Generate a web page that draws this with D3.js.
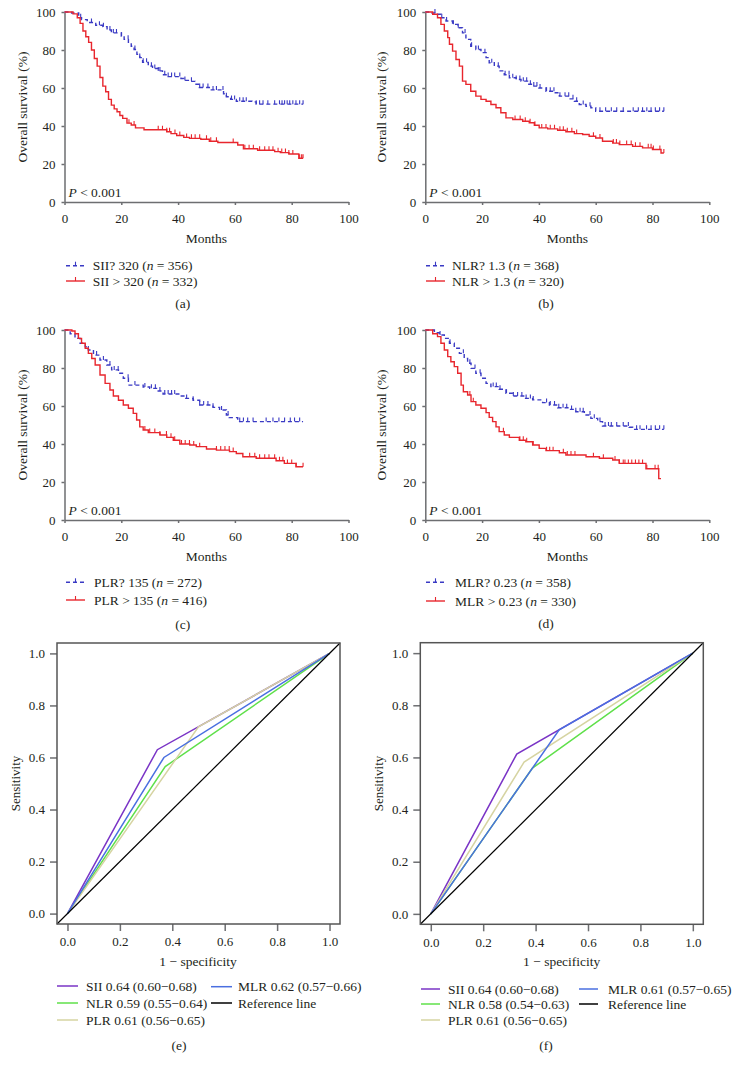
<!DOCTYPE html>
<html><head><meta charset="utf-8">
<script src="https://cdn.jsdelivr.net/npm/d3@7"></script>
<style>
body{margin:0;background:#fff}
svg{display:block}
text{font-family:"Liberation Serif","Times New Roman",serif;fill:#231f20}
</style>
</head><body>
<svg id="c" width="732" height="1072"></svg>
<script>
// ---------- Kaplan–Meier data (time in months, survival %) ----------
const kmTicks = [0, 20, 40, 60, 80, 100];

const aLowT = [0,2.5,5,6,8,11,13.5,15,16.5,20,21,22.5,23.5,24.5,25.5,26.5,27.5,29.5,31,33,34.5,36.5,41,42,44.5,46,47.5,51,56,57,58.5,60.5,66,67.5];
const aLowS = [100,99.5,97,96,94.5,93,92.3,90.5,89,87.3,85.6,84,82,80.3,77.7,76,73.5,71.5,70.3,69,67,66,65,64,63.5,62,60.3,59,57,55.4,54,53,52.7,51.5];
const aLowC = [5.7,9.5,12.3,13.7,16,17.2,18.3,20.1,22.4,24.8,26.5,27.7,28.9,30.6,31.8,33,33.6,35.3,36.5,37.7,38.8,40.6,42.4,44.7,47.6,48.8,50.5,52.3,53.5,55.8,57,58.8,59.9,61.7,62.9,64,67.5,68.7,69.9,71.6,74,75.7,76.6,77.5,78.4,79.3,80.4,81.5,82.8,84];
const aHighT = [0,3,4.5,5.5,6.5,7.5,8.5,9.5,10.5,11.5,12.5,13.5,14.5,15.5,16.5,17.5,18.5,19.5,20.5,22,23.5,25,28,36,37.5,39.5,42,44,48,51,54,61,63,68,74,76,79,82.5];
const aHighS = [100,99,97,94,90,87,84,80,75.5,71.5,65.5,61,58,54,51,49,47.5,45.5,44,41.5,40.5,39,38,37,36,35,34,33.5,33,32,31.3,30,28,27.2,26.5,26,25.3,23];
const aHighC = [22.7,24.5,33,34.5,36,37,38.9,40.6,43,44.7,46,47.6,50,51.5,53.5,59.4,63.5,65,66.5,68.7,70.5,72,73.4,75.2,76.5,77.8,79,80.4,82.8,83.5,84];

const bLowT = [0,2,3.8,5.5,7.3,9.6,11.4,13.1,14.3,16,17.8,19.6,21.4,22.5,24.3,26,27.8,29.6,32,33.7,36,37.8,40,42.5,45.4,47.2,50.7,52.5,54.2,56.6,58.3,60];
const bLowS = [100,99.5,98.8,97,95.3,93.5,91.7,89,85.6,82,80.3,78.6,76,73.3,71.5,69,67,65.4,64.5,63.6,62,61,60,58.3,57.5,55.7,54.3,53,51.3,50.4,49.6,47.8];
const bLowC = [3.4,5.8,7.5,9.9,11.6,14,16.3,18.7,21,23.4,25.7,28.1,29.5,30.8,32,33.3,34.5,35.7,37,38.2,39.3,40.4,42.7,44,45.3,47.4,49.2,50.5,52,53.3,55.6,58,61.5,63.5,65.5,67.4,69.7,73.2,75,76.5,78,79.5,81,82.5,84];
const bHighT = [0,2.6,4.3,5.5,6.7,7.9,8.5,9.6,10.8,12,13.1,14.3,16,17.8,19.6,21.4,23.1,24.9,26.6,28.4,30.8,34.3,36.6,38.4,40.1,43.1,46.6,49.5,52.5,55.4,57.7,60,62.4,66,68.3,73,76.5,80,83];
const bHighS = [100,98.8,97,93.5,90,86.5,83,79.4,75,71.5,63.6,61.9,58.3,55.7,54,53,51.3,49.6,47,44.3,43.4,42.5,41.7,40.4,39,38.5,37.8,37,36,35.5,34.6,33.7,32,31,30.2,29.3,28.5,27.6,25.8];
const bHighC = [31.6,33.4,35.2,36.9,38.6,41,42.5,44,45.5,47.4,48.6,50,51.6,53.3,59.2,61.5,66.2,67.3,68.5,70.9,72.5,74,75.6,78.5,79.5,80.3,82.6,84];

const cLowT = [0,2,3.7,5.5,7.3,8.4,10.2,12.5,14.9,16.6,19,20.7,22.5,27.7,30,32.4,34.7,40.6,42.3,45.3,47.6,52.3,54.6,57,58,61];
const cLowS = [100,98,95.6,93,91.2,89.5,86.8,84.2,81.6,79,77.2,74.6,71,70,69.3,67.9,66.3,65.3,64,63,60.5,59.3,57.9,55.3,53.9,51.8];
const cLowC = [4.9,8.4,11.3,13.7,16,17.5,18.9,22.4,24.8,28.3,30.6,32,33.6,35.3,36.5,37.7,38.8,43,45.3,47.6,49,50.5,52.3,55.3,57.6,61.7,63,64.5,66.4,71,73.4,75.5,77.5,79.5,81,82.8];
const cHighT = [0,2.6,3.7,4.9,6,7.3,8.4,9.6,10.8,12.5,14.3,16,17.2,19,20.7,22.5,24.2,25.4,26.5,27.7,29.5,33.6,36,38.3,40.6,44.1,46.4,50,53.5,58.1,60.5,62.8,67.5,74.5,77.4,81.5];
const cHighS = [100,99.5,98,95.6,93,90.4,87.7,85,81.6,76.3,71.9,68.4,65.3,63,60.5,58.8,56.1,52.6,49,47.4,46,44.7,43.5,42,40,39.5,38.6,37.4,36.8,36,35,33.3,32.5,31.2,29.8,28];
const cHighC = [28.3,30,31.8,33.6,35.9,37.5,38.8,41.2,42.5,44,45.5,47.6,53.5,55,56.5,58,59.4,65.2,67,68.7,70.5,72,74,75.7,76.9,78.5,80,81.6,84];

const dLowT = [0,3.2,4.9,6.7,8.5,10.2,12,13.7,14.9,16.1,17.8,19.6,21.4,23.1,26,28.4,30.8,34.9,37.8,41.3,43.7,46.6,50.7,53,56,58.3,60.7,62.4,71.8,73];
const dLowS = [100,98.6,97.4,95.6,93,90.4,87.7,85,82.5,79.8,77.2,74.6,71.9,70.2,68.8,66.7,65.3,64,63.2,61.8,60.5,59.1,58.2,57,55.3,53.5,51.8,49.5,48.8,47.7];
const dLowC = [5.2,8.7,13.4,15.7,17.5,19.3,23.9,25,26.3,28.6,31,32.5,34,35.5,37,38,42.7,44,45.5,47,48.5,49.8,51.5,53,54.5,55.6,58,59.5,61.5,63.3,64.5,65.5,67.4,69.7,71.5,74.4,75.6,77.9,79.5,81,82.5,84];
const dHighT = [0,2.6,4.3,5.5,6.7,7.9,9,10.2,11.4,12.6,13.4,14.9,16.1,17.8,19.6,21.4,22.5,23.7,24.9,26,27.8,29.6,33.1,35.4,37.8,40.1,42.5,47.2,49.5,56.6,61.3,66,68.3,77.7,82.2];
const dHighS = [100,98,96.5,93,89.5,86,83.3,80.7,77.2,71,67.5,65.8,62.3,60.5,58.8,56.5,54,51.8,49,46.5,44.7,43.5,42,41.2,39.5,37.7,36.5,35.4,34.2,33.3,32.5,31.6,29.8,27,21.8];
const dHighC = [15.7,16.9,27.5,33.3,34.5,35.7,38,42.7,43.8,45,48.6,50,51.3,52.7,59.2,62.7,66.8,68.3,69.7,70.3,71.5,72.7,74,75.2,76.5,78,80.9,82];

const kmEnds = {a:[84,84], b:[84,84], c:[84,84], d:[84,83]};
const kmLegend = {
  a:[["SII? 320 (","356)"],["SII > 320 (","332)"]],
  b:[["NLR? 1.3 (","368)"],["NLR > 1.3 (","320)"]],
  c:[["PLR? 135 (","272)"],["PLR > 135 (","416)"]],
  d:[["MLR? 0.23 (","358)"],["MLR > 0.23 (","330)"]]
};

// ---------- ROC data ----------
const rocTicks = [0, 0.2, 0.4, 0.6, 0.8, 1.0];
const rocNames = ["SII", "NLR", "PLR", "MLR"];
const rocColors = ["#7a34c6", "#5fe04a", "#d6d4a2", "#4a6fe0"];
const eLabels = ["SII 0.64 (0.60\u22120.68)", "NLR 0.59 (0.55\u22120.64)", "PLR 0.61 (0.56\u22120.65)", "MLR 0.62 (0.57\u22120.66)"];
const eFpr = [0.343, 0.373, 0.50, 0.368];
const eTpr = [0.63, 0.565, 0.718, 0.60];
const fLabels = ["SII 0.64 (0.60\u22120.68)", "NLR 0.58 (0.54\u22120.63)", "PLR 0.61 (0.56\u22120.65)", "MLR 0.61 (0.57\u22120.65)"];
const fFpr = [0.328, 0.388, 0.356, 0.49];
const fTpr = [0.613, 0.559, 0.582, 0.706];

// ---------- drawing ----------
const svg = d3.select("#c");
const FS = 13, FL = 13.5;
const BLUE = "#3a3ac4", RED = "#e8262d", AX = "#6d6e71";

function styleAxis(g) {
  g.selectAll("path,line").attr("stroke", AX).attr("stroke-width", 1.5);
  g.selectAll("text").attr("font-size", FS).attr("fill", "#231f20")
   .style("font-family", '"Liberation Serif","Times New Roman",serif');
}

function km(cfg) {
  const g = svg.append("g");
  const x = d3.scaleLinear([0, 100], [cfg.x0, cfg.x0 + 284]);
  const y = d3.scaleLinear([0, 100], [cfg.y0, cfg.y0 - 190]);
  g.append("g").attr("transform", `translate(0,${cfg.y0})`)
    .call(d3.axisBottom(x).tickValues(kmTicks).tickSize(3).tickSizeOuter(0).tickPadding(9)).call(styleAxis);
  g.append("g").attr("transform", `translate(${cfg.x0},0)`)
    .call(d3.axisLeft(y).tickValues(kmTicks).tickSize(3).tickSizeOuter(0).tickPadding(6)).call(styleAxis);

  const line = d3.line().x(d => x(d[0])).y(d => y(d[1])).curve(d3.curveStepAfter);
  cfg.series.forEach(s => {
    const pts = s.T.map((t, i) => [t, s.S[i]]);
    pts.push([s.end, s.S[s.S.length - 1]]);
    g.append("path").attr("d", line(pts)).attr("fill", "none")
      .attr("stroke", s.color).attr("stroke-width", 1.4)
      .attr("stroke-dasharray", s.dash ? "4,3" : null);
    const cp = d3.path();
    s.C.forEach(c => {
      const i = d3.bisectRight(s.T, c) - 1;
      const v = s.S[Math.max(0, i)];
      cp.moveTo(x(c), y(v)); cp.lineTo(x(c), y(v) - 4);
    });
    g.append("path").attr("d", cp.toString()).attr("fill", "none")
      .attr("stroke", s.color).attr("stroke-width", 1.1);
  });

  const p = g.append("text").attr("x", cfg.x0 + 4).attr("y", cfg.y0 - 5).attr("font-size", FL);
  p.append("tspan").attr("font-style", "italic").text("P");
  p.append("tspan").text(" < 0.001");
  g.append("text").attr("transform", `translate(${cfg.yl},${(cfg.y0 + cfg.y0 - 190) / 2}) rotate(-90)`)
    .attr("text-anchor", "middle").attr("dy", "0.35em").attr("font-size", FL).text("Overall survival (%)");
  g.append("text").attr("x", cfg.x0 + 142).attr("y", cfg.y0 + 41).attr("text-anchor", "middle")
    .attr("font-size", FL).text("Months");
  cfg.series.forEach((s, k) => {
    const ry = cfg.rows[k];
    g.append("line").attr("x1", cfg.lx[0]).attr("x2", cfg.lx[1]).attr("y1", ry).attr("y2", ry)
      .attr("stroke", s.color).attr("stroke-width", 1.4).attr("stroke-dasharray", s.dash ? "4,3" : null);
    const mx = (cfg.lx[0] + cfg.lx[1]) / 2;
    g.append("line").attr("x1", mx).attr("x2", mx).attr("y1", ry).attr("y2", ry - 4)
      .attr("stroke", s.color).attr("stroke-width", 1.1);
    const t = g.append("text").attr("x", cfg.tx).attr("y", ry).attr("dy", "0.35em").attr("font-size", FL);
    t.append("tspan").text(cfg.legend[k][0]);
    t.append("tspan").attr("font-style", "italic").text("n");
    t.append("tspan").text(" = " + cfg.legend[k][1]);
  });
  g.append("text").attr("x", cfg.labX).attr("y", cfg.labY).attr("text-anchor", "middle")
    .attr("font-size", FL).text(cfg.label);
}

km({x0: 64.5, y0: 202, yl: 22, rows: [265.7, 281], lx: [66, 85], tx: 92.7, labX: 182.7, labY: 308, label: "(a)", legend: kmLegend.a,
  series: [{T: aLowT, S: aLowS, C: aLowC, end: kmEnds.a[0], color: BLUE, dash: true},
           {T: aHighT, S: aHighS, C: aHighC, end: kmEnds.a[1], color: RED, dash: false}]});
km({x0: 425.3, y0: 202, yl: 381, rows: [265.7, 281], lx: [426, 445], tx: 452, labX: 546, labY: 308, label: "(b)", legend: kmLegend.b,
  series: [{T: bLowT, S: bLowS, C: bLowC, end: kmEnds.b[0], color: BLUE, dash: true},
           {T: bHighT, S: bHighS, C: bHighC, end: kmEnds.b[1], color: RED, dash: false}]});
km({x0: 64.5, y0: 520, yl: 22, rows: [582.3, 600], lx: [66, 85], tx: 94, labX: 182.7, labY: 629, label: "(c)", legend: kmLegend.c,
  series: [{T: cLowT, S: cLowS, C: cLowC, end: kmEnds.c[0], color: BLUE, dash: true},
           {T: cHighT, S: cHighS, C: cHighC, end: kmEnds.c[1], color: RED, dash: false}]});
km({x0: 425.3, y0: 520, yl: 381, rows: [582.3, 601], lx: [426, 445], tx: 455, labX: 546, labY: 628, label: "(d)", legend: kmLegend.d,
  series: [{T: dLowT, S: dLowS, C: dLowC, end: kmEnds.d[0], color: BLUE, dash: true},
           {T: dHighT, S: dHighS, C: dHighC, end: kmEnds.d[1], color: RED, dash: false}]});

function roc(cfg) {
  const g = svg.append("g");
  const x = d3.scaleLinear([-0.04, 1.04], [cfg.l, cfg.r]);
  const y = d3.scaleLinear([-0.04, 1.04], [cfg.b, cfg.t]);
  const fmt = d3.format(".1f");
  g.append("g").attr("transform", `translate(0,${cfg.b})`)
    .call(d3.axisBottom(x).tickValues(rocTicks).tickFormat(fmt).tickSize(7).tickSizeOuter(0).tickPadding(6)).call(styleAxis)
    .call(a => a.select(".domain").remove());
  g.append("g").attr("transform", `translate(${cfg.l},0)`)
    .call(d3.axisLeft(y).tickValues(rocTicks).tickFormat(fmt).tickSize(7).tickSizeOuter(0).tickPadding(5)).call(styleAxis)
    .call(a => a.select(".domain").remove());

  const line = d3.line().x(d => x(d[0])).y(d => y(d[1]));
  cfg.fpr.forEach((f, i) => {
    g.append("path").attr("d", line([[0, 0], [f, cfg.tpr[i]], [1, 1]]))
      .attr("fill", "none").attr("stroke", rocColors[i]).attr("stroke-width", 1.5);
  });
  g.append("path").attr("d", line([[-0.04, -0.04], [1.04, 1.04]]))
    .attr("fill", "none").attr("stroke", "#000").attr("stroke-width", 1.2);
  g.append("rect").attr("x", cfg.l).attr("y", cfg.t).attr("width", cfg.r - cfg.l).attr("height", cfg.b - cfg.t)
    .attr("fill", "none").attr("stroke", "#555").attr("stroke-width", 1.5);

  g.append("text").attr("transform", `translate(${cfg.yl},${(cfg.t + cfg.b) / 2}) rotate(-90)`)
    .attr("text-anchor", "middle").attr("dy", "0.35em").attr("font-size", FS).text("Sensitivity");
  g.append("text").attr("x", cfg.xlX).attr("y", 966).attr("text-anchor", "middle")
    .attr("font-size", FL).text("1 \u2212 specificity");

  const items = [
    {lab: cfg.labels[0], col: rocColors[0], lx: cfg.c1, tx: cfg.t1, y: cfg.rows1[0]},
    {lab: cfg.labels[1], col: rocColors[1], lx: cfg.c1, tx: cfg.t1, y: cfg.rows1[1]},
    {lab: cfg.labels[2], col: rocColors[2], lx: cfg.c1, tx: cfg.t1, y: cfg.rows1[2]},
    {lab: cfg.labels[3], col: rocColors[3], lx: cfg.c2, tx: cfg.t2, y: cfg.rows2[0]},
    {lab: "Reference line", col: "#000", lx: cfg.c2, tx: cfg.t2, y: cfg.rows2[1]}
  ];
  items.forEach(it => {
    g.append("line").attr("x1", it.lx[0]).attr("x2", it.lx[1]).attr("y1", it.y).attr("y2", it.y)
      .attr("stroke", it.col).attr("stroke-width", 1.5);
    g.append("text").attr("x", it.tx).attr("y", it.y).attr("dy", "0.35em").attr("font-size", FL).text(it.lab);
  });
  g.append("text").attr("x", cfg.labX).attr("y", 1050).attr("text-anchor", "middle")
    .attr("font-size", FL).text(cfg.label);
}

roc({l: 57, r: 340, t: 643, b: 924, yl: 15, xlX: 198, fpr: eFpr, tpr: eTpr, labels: eLabels,
  c1: [57, 78], t1: 86, rows1: [986, 1003, 1020], c2: [211, 232], t2: 238, rows2: [986.7, 1003],
  labX: 179, label: "(e)"});
roc({l: 420.3, r: 703.3, t: 642.7, b: 924.3, yl: 378.7, xlX: 561.7, fpr: fFpr, tpr: fTpr, labels: fLabels,
  c1: [421, 440], t1: 448, rows1: [989, 1004, 1020], c2: [579, 598], t2: 608, rows2: [989, 1004],
  labX: 546, label: "(f)"});
</script>
</body></html>
